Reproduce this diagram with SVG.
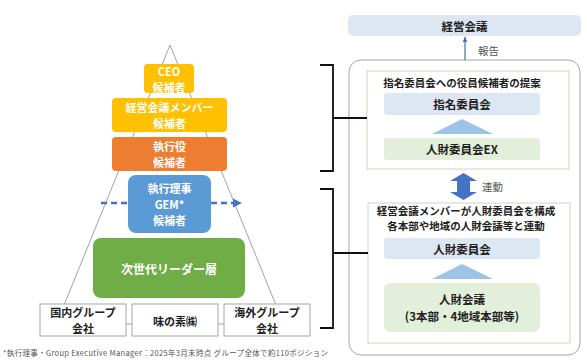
<svg xmlns="http://www.w3.org/2000/svg" width="587" height="360" viewBox="0 0 587 360">
<defs>
<style>
.t{font-family:"Noto Sans CJK JP","Liberation Sans",sans-serif;text-anchor:middle;dominant-baseline:central}
.w{fill:#fff;font-weight:bold;font-size:11px}
.k{fill:#222;font-weight:bold;font-size:11px}
.r{fill:#222;font-weight:bold;font-size:11.5px}
.h{fill:#222;font-weight:bold;font-size:10.5px}
.s{fill:#555;font-size:10.5px;text-anchor:start}
.gl{stroke:#8c8c8c;stroke-width:0.8;fill:none}
.bx{fill:#fff;stroke:#a6a6a6;stroke-width:1}
.br{stroke:#111;stroke-width:1.8;fill:none}
.ib{fill:#fff;stroke:#d5d2c2;stroke-width:1}
.lb{fill:#dde6f3}
.lg{fill:#e3efda}
.tri{fill:#9dc3e6}
</style>
<marker id="ah" viewBox="0 0 10 10" refX="8" refY="5" markerWidth="3.6" markerHeight="3.6" orient="auto"><path d="M0,0 L10,5 L0,10 z" fill="#4472c4"/></marker>
<marker id="ah2" viewBox="0 0 10 10" refX="9" refY="5" markerWidth="5" markerHeight="5" orient="auto"><path d="M0,1 L10,5 L0,9 z" fill="#4a6fa8"/></marker>
</defs>
<rect width="587" height="360" fill="#fff"/>

<g id="outer"><rect x="349" y="60" width="231" height="295" rx="12" fill="none" stroke="#a6a6a6" stroke-width="1"/></g>
<g id="nomination-group"><rect class="ib" x="367" y="71" width="202" height="98"/>
<text class="t h" x="462" y="82">指名委員会への役員候補者の提案</text></g>
<g id="hr-group"><rect class="ib" x="368" y="203" width="202" height="140"/>
<text class="t h" x="466" y="210">経営会議メンバーが人財委員会を構成</text>
<text class="t h" x="466" y="225.5">各本部や地域の人財会議等と連動</text></g>

<g id="connectors">
<path class="gl" d="M170,45 L62,310 M170,45 L278,310"/>
<path class="gl" d="M126,324 H132 M218,324 H224"/>
<path d="M127,203 H98 M211,203 H240" stroke="#4472c4" stroke-width="2.6" stroke-dasharray="6 4" fill="none" marker-end="url(#ah)"/>
<path class="br" d="M320,65 H333 V171 H320 M333,118 H367"/>
<path class="br" d="M320,189 H333 V328 H320 M333,253 H368"/>
<path d="M465,60 V37" stroke="#4a6fa8" stroke-width="1.2" fill="none" marker-end="url(#ah2)"/>
<polygon points="463.5,173 477,181 470,181 470,192 477,192 463.5,200 450,192 457,192 457,181 450,181" fill="#4472c4"/>
<polygon class="tri" points="462,119 432,134 493,134"/>
<polygon class="tri" points="462,264 432,279 493,279"/>
</g>

<g id="ceo"><rect x="144" y="64" width="50" height="29" rx="4" fill="#ffc000"/>
<text class="t w" x="169" y="70.5">CEO</text><text class="t w" x="169" y="86.5">候補者</text></g>
<g id="keiei-member"><rect x="112" y="98" width="115" height="34" rx="4" fill="#ffc000"/>
<text class="t w" x="169.5" y="107">経営会議メンバー</text><text class="t w" x="169.5" y="123">候補者</text></g>
<g id="shikkouyaku"><rect x="112" y="137" width="115" height="34" rx="4" fill="#ed7d31"/>
<text class="t w" x="169.5" y="146">執行役</text><text class="t w" x="169.5" y="162">候補者</text></g>
<g id="gem"><rect x="128" y="175" width="83" height="58" rx="8" fill="#5b9bd5"/>
<text class="t w" x="169.5" y="188">執行理事</text><text class="t w" x="169.5" y="204">GEM*</text><text class="t w" x="169.5" y="220">候補者</text></g>
<g id="next-gen"><rect x="93" y="238" width="152" height="60" rx="8" fill="#70ad47"/>
<text class="t w" x="169" y="268" style="font-size:12px">次世代リーダー層</text></g>
<g id="domestic"><rect class="bx" x="40" y="304" width="86" height="32"/>
<text class="t k" x="83" y="312">国内グループ</text><text class="t k" x="83" y="328">会社</text></g>
<g id="ajinomoto"><rect class="bx" x="132" y="304" width="86" height="32"/>
<text class="t k" x="175" y="320.5">味の素㈱</text></g>
<g id="overseas"><rect class="bx" x="224" y="304" width="86" height="32"/>
<text class="t k" x="267" y="312">海外グループ</text><text class="t k" x="267" y="328">会社</text></g>

<text x="3" y="352" style="font-family:'Noto Sans CJK JP','Liberation Sans',sans-serif;font-size:7.5px;fill:#555;dominant-baseline:central" textLength="325" lengthAdjust="spacing">*執行理事・Group Executive Manager：2025年3月末時点 グループ全体で約110ポジション</text>

<g id="keiei-kaigi"><rect x="348" y="15" width="233" height="21" rx="5" class="lb"/>
<text class="t r" x="464.5" y="25.5">経営会議</text></g>
<text class="t s" x="478" y="50">報告</text>

<g id="shimei"><rect class="lb" x="384" y="93" width="156" height="22" rx="3"/>
<text class="t r" x="462" y="104">指名委員会</text></g>
<g id="jinzai-ex"><rect class="lg" x="384" y="138" width="156" height="22" rx="3"/>
<text class="t r" x="462" y="149">人財委員会EX</text></g>
<text class="t s" x="482" y="186">連動</text>

<g id="jinzai-iinkai"><rect class="lb" x="384" y="238" width="156" height="21" rx="3"/>
<text class="t r" x="462" y="248.5">人財委員会</text></g>
<g id="jinzai-kaigi"><rect class="lg" x="384" y="283" width="156" height="49" rx="6"/>
<text class="t r" x="462" y="298.5">人財会議</text><text class="t r" x="462" y="315.5">(3本部・4地域本部等)</text></g>
</svg>
